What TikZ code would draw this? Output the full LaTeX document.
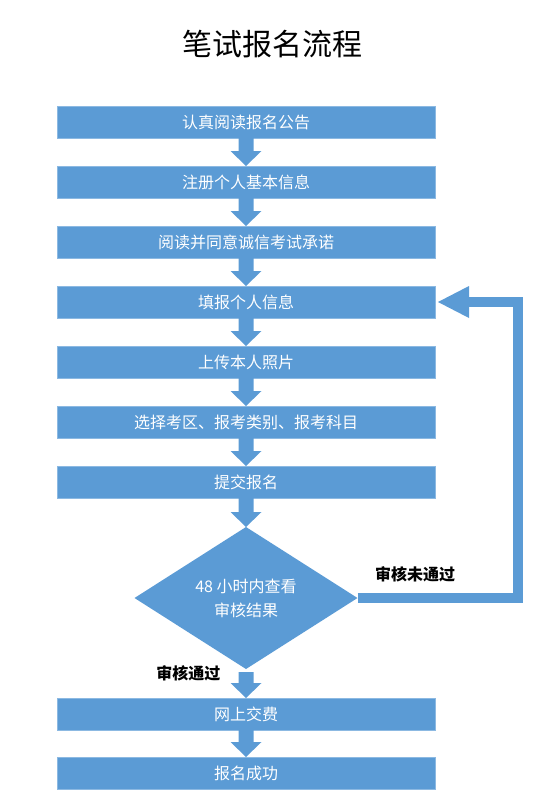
\documentclass[tikz,border=0pt]{standalone}
\usepackage{fontspec}
\setmainfont{Noto Sans CJK SC}
\usetikzlibrary{positioning,shapes.geometric,calc}
\definecolor{flowblue}{HTML}{5B9BD5}
\newcommand{\blockarrow}[2]{%
  \fill[flowblue] let \p1=(#1), \p2=(#2) in
    (\x1-7.5pt,\y1) -- (\x1+7.5pt,\y1) -- (\x1+7.5pt,\y2+15pt) -- (\x1+15.5pt,\y2+15pt)
    -- (\x1,\y2) -- (\x1-15.5pt,\y2+15pt) -- (\x1-7.5pt,\y2+15pt) -- cycle;}

\begin{document}
\begin{tikzpicture}[x=1pt, y=1pt,
  node distance=28pt,
  stepbox/.style={fill=flowblue, draw=flowblue!70!white, line width=0.6pt, outer sep=0pt, text=white, font=\fontsize{16}{19}\selectfont, minimum width=378pt, minimum height=32pt, inner sep=0pt},
  check/.style={diamond, fill=flowblue, text=white, align=center, font=\fontsize{16}{24}\selectfont, minimum width=223pt, minimum height=142pt, inner sep=0pt, outer sep=0pt, aspect=1.57},
  note/.style={font=\fontsize{16}{19}\selectfont\bfseries}
]
\useasboundingbox (0,0) rectangle (552,-808);
\node[font=\fontsize{30}{36}\selectfont] (title) at (272,-44) {笔试报名流程};
\node[stepbox] (notice) at (246,-122) {认真阅读报名公告};
\node[stepbox, below=of notice] (register) {注册个人基本信息};
\node[stepbox, below=of register] (promise) {阅读并同意诚信考试承诺};
\node[stepbox, below=of promise] (info) {填报个人信息};
\node[stepbox, below=of info] (photo) {上传本人照片};
\node[stepbox, below=of photo] (choose) {选择考区、报考类别、报考科目};
\node[stepbox, below=of choose] (submit) {提交报名};
\node[check, below=29pt of submit] (result) {48 小时内查看\\审核结果};
\node[stepbox, below=29pt of result] (pay) {网上交费};
\node[stepbox, below=27pt of pay] (done) {报名成功};
\blockarrow{notice.south}{register.north}
\blockarrow{register.south}{promise.north}
\blockarrow{promise.south}{info.north}
\blockarrow{info.south}{photo.north}
\blockarrow{photo.south}{choose.north}
\blockarrow{choose.south}{submit.north}
\blockarrow{submit.south}{result.north}
\coordinate (passgap) at ($(result.south)+(0,-3pt)$);
\blockarrow{passgap}{pay.north}
\blockarrow{pay.south}{done.north}
% back to the info step
\coordinate (turn) at ($(result.east)+(160pt,0)$);
\coordinate (headbase) at ($(info.east)+(33pt,0)$);
\draw[flowblue, line width=10pt, line join=miter] (result.east) -- (turn) |- (headbase);
\fill[flowblue] let \p1=(info.east) in (\x1+3pt,\y1) -- (\x1+34pt,\y1+16pt) -- (\x1+34pt,\y1-16pt) -- cycle;
\node[note, anchor=south west] (failed) at ($(result.east)+(14pt,12pt)$) {审核未通过};
\node[note, anchor=east] (passed) at ($(result.south)+(-22pt,-4pt)$) {审核通过};
\end{tikzpicture}
\end{document}
